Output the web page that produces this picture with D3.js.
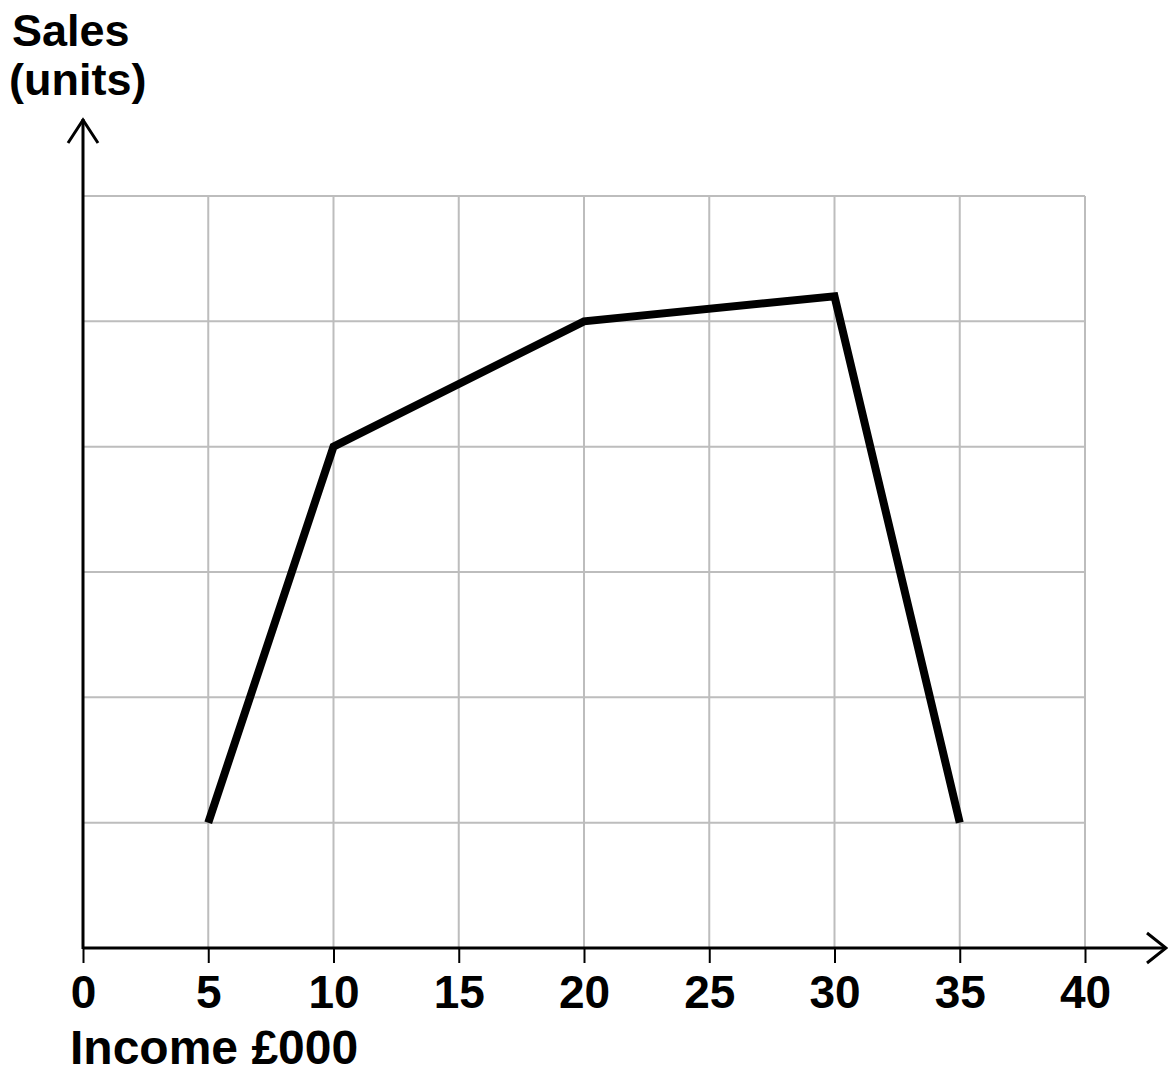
<!DOCTYPE html>
<html>
<head>
<meta charset="utf-8">
<script src="https://cdn.jsdelivr.net/npm/d3@7"></script>
<style>
  body { margin: 0; background: #fff; }
  svg { display: block; font-family: Arial, "Liberation Sans", sans-serif; font-weight: bold; }
</style>
</head>
<body>
<svg width="1168" height="1073"></svg>
<script>
// data
const incomes = [5, 10, 20, 30, 35];
const sales = [1, 4, 5, 5.2, 1];
const xTicks = [0, 5, 10, 15, 20, 25, 30, 35, 40];
const yGrid = [1, 2, 3, 4, 5, 6];

const svg = d3.select("svg");

const x = d3.scaleLinear().domain([0, 40]).range([83, 1085]);
const y = d3.scaleLinear().domain([0, 6]).range([948, 196]);

const GRID_COLOR = "#bdbdbd";

// grid
svg.append("g")
  .selectAll("line")
  .data(xTicks.slice(1))
  .enter()
  .append("line")
  .attr("x1", (d) => x(d))
  .attr("x2", (d) => x(d))
  .attr("y1", y(0))
  .attr("y2", y(6))
  .attr("stroke", GRID_COLOR)
  .attr("stroke-width", 2);

svg.append("g")
  .selectAll("line")
  .data(yGrid)
  .enter()
  .append("line")
  .attr("x1", x(0))
  .attr("x2", x(40))
  .attr("y1", (d) => y(d))
  .attr("y2", (d) => y(d))
  .attr("stroke", GRID_COLOR)
  .attr("stroke-width", 2);

// x axis with ticks below
const xAxis = svg.append("g")
  .attr("transform", `translate(0,${y(0)})`)
  .call(d3.axisBottom(x).tickValues(xTicks).tickSize(15).tickPadding(12));
xAxis.select(".domain").remove();
xAxis.selectAll(".tick line").attr("stroke", "#000").attr("stroke-width", 2);
xAxis.selectAll(".tick text")
  .attr("fill", "#000")
  .style("font-size", "46px")
  .style("font-weight", "bold")
  .style("font-family", "Arial, 'Liberation Sans', sans-serif");

// axis lines with open arrowheads
svg.append("line")
  .attr("x1", x(0)).attr("x2", 1166)
  .attr("y1", y(0)).attr("y2", y(0))
  .attr("stroke", "#000").attr("stroke-width", 3);
svg.append("path")
  .attr("d", `M1147,${y(0) - 15} L1166,${y(0)} L1147,${y(0) + 15}`)
  .attr("fill", "none").attr("stroke", "#000").attr("stroke-width", 3);

svg.append("line")
  .attr("x1", x(0)).attr("x2", x(0))
  .attr("y1", y(0) + 1).attr("y2", 119)
  .attr("stroke", "#000").attr("stroke-width", 3);
svg.append("path")
  .attr("d", `M${x(0) - 15},143 L${x(0)},120 L${x(0) + 15},143`)
  .attr("fill", "none").attr("stroke", "#000").attr("stroke-width", 3);

// data line
const line = d3.line()
  .x((d, i) => x(incomes[i]))
  .y((d) => y(d));

svg.append("path")
  .datum(sales)
  .attr("d", line)
  .attr("fill", "none")
  .attr("stroke", "#000")
  .attr("stroke-width", 8)
  .attr("stroke-linejoin", "miter");

// labels
svg.append("text").attr("x", 12).attr("y", 46)
  .style("font-size", "45px").text("Sales");
svg.append("text").attr("x", 9).attr("y", 95)
  .style("font-size", "45px").text("(units)");
svg.append("text").attr("x", 70).attr("y", 1064)
  .style("font-size", "48px").text("Income £000");
</script>
</body>
</html>
